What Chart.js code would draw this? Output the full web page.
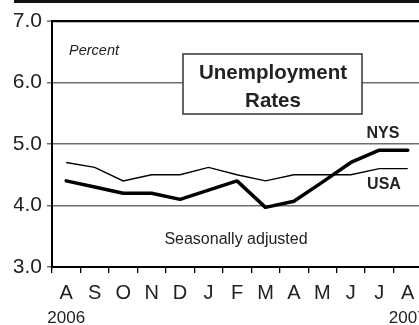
<!DOCTYPE html>
<html><head><meta charset="utf-8">
<script src="https://cdn.jsdelivr.net/npm/chart.js@4"></script>
<style>html,body{margin:0;padding:0;overflow:hidden;background:#fff}canvas{display:block}</style>
</head><body>
<canvas id="c" width="422" height="325"></canvas>
<script>
const months = ['A','S','O','N','D','J','F','M','A','M','J','J','A'];
const years = ['2006','','','','','','','','','','','','2007'];
const nys = [4.4, 4.3, 4.2, 4.2, 4.1, 4.25, 4.4, 3.97, 4.07, 4.38, 4.7, 4.9, 4.9];
const usa = [4.7, 4.62, 4.4, 4.5, 4.5, 4.62, 4.5, 4.4, 4.5, 4.5, 4.5, 4.6, 4.6];
const yTicks = [3, 4, 5, 6, 7];

const F = '"Liberation Sans", Arial, Helvetica, sans-serif';

const deco = {
  id: 'deco',
  beforeDraw(chart) {
    const ctx = chart.ctx;
    ctx.save();
    ctx.fillStyle = '#fff';
    ctx.fillRect(0, 0, chart.width, chart.height);
    ctx.fillStyle = '#111';
    ctx.fillRect(14, 0, chart.width - 14, 3);
    ctx.restore();
  },
  afterDraw(chart) {
    const ctx = chart.ctx;
    ctx.save();
    ctx.fillStyle = '#fff';
    ctx.strokeStyle = '#333';
    ctx.lineWidth = 1.5;
    ctx.fillRect(183, 54, 179, 60);
    ctx.strokeRect(183, 54, 179, 60);
    ctx.fillStyle = '#222';
    ctx.textBaseline = 'alphabetic';
    ctx.textAlign = 'center';
    ctx.font = 'bold 20.5px ' + F;
    ctx.fillText('Unemployment', 273, 79);
    ctx.fillText('Rates', 273, 107);
    ctx.textAlign = 'left';
    ctx.font = 'italic 14.5px ' + F;
    ctx.fillText('Percent', 69, 55);
    ctx.textAlign = 'center';
    ctx.font = '16px ' + F;
    ctx.fillText('Seasonally adjusted', 236, 244);
    ctx.font = 'bold 16px ' + F;
    ctx.fillText('NYS', 383, 138);
    ctx.fillText('USA', 384, 189);
    ctx.restore();
  }
};

new Chart(document.getElementById('c'), {
  type: 'line',
  data: {
    labels: months,
    datasets: [
      { label: 'NYS', data: nys, borderColor: '#000', borderWidth: 3.5, pointRadius: 0, tension: 0, fill: false, borderJoinStyle: 'round', borderCapStyle: 'round' },
      { label: 'USA', data: usa, borderColor: '#000', borderWidth: 1.4, pointRadius: 0, tension: 0, fill: false }
    ]
  },
  options: {
    responsive: false,
    animation: false,
    devicePixelRatio: 1,
    layout: { padding: { left: 14, top: 21, right: 0, bottom: 0 } },
    plugins: { legend: { display: false }, tooltip: { enabled: false } },
    scales: {
      x: {
        type: 'category', labels: months, offset: true, weight: 0,
        grid: { display: true, drawOnChartArea: false, drawTicks: true, tickLength: 6, offset: true, color: '#000', lineWidth: 1.3 },
        border: { display: true, color: '#000', width: 2 },
        ticks: { autoSkip: false, maxRotation: 0, padding: 8, color: '#222', font: { family: F, size: 20 } },
        afterFit(s) { s.height = 38; s.paddingLeft = 0; s.paddingRight = 0; }
      },
      x2: {
        type: 'category', labels: years, offset: true, position: 'bottom', weight: 1,
        grid: { display: false, drawTicks: false },
        border: { display: false },
        ticks: { autoSkip: false, maxRotation: 0, padding: 3, color: '#222', font: { family: F, size: 17 } },
        afterFit(s) { s.height = 20; s.paddingLeft = 0; s.paddingRight = 0; }
      },
      y: {
        min: 3, max: 7,
        afterBuildTicks(s) { s.ticks = yTicks.map(v => ({ value: v })); },
        ticks: { callback: v => Number(v).toFixed(1), padding: 5, color: '#222', font: { family: F, size: 21 } },
        grid: {
          color: c => (c.tick && (c.tick.value === 7 || c.tick.value === 3)) ? '#000' : '#6e6e6e',
          lineWidth: c => (c.tick && c.tick.value === 7) ? 2.2 : 1.5,
          tickColor: '#555', tickLength: 5, tickWidth: 1.3
        },
        border: { color: '#000', width: 2 },
        afterFit(s) { s.width = 38; }
      }
    }
  },
  plugins: [deco]
});
</script>
</body></html>
